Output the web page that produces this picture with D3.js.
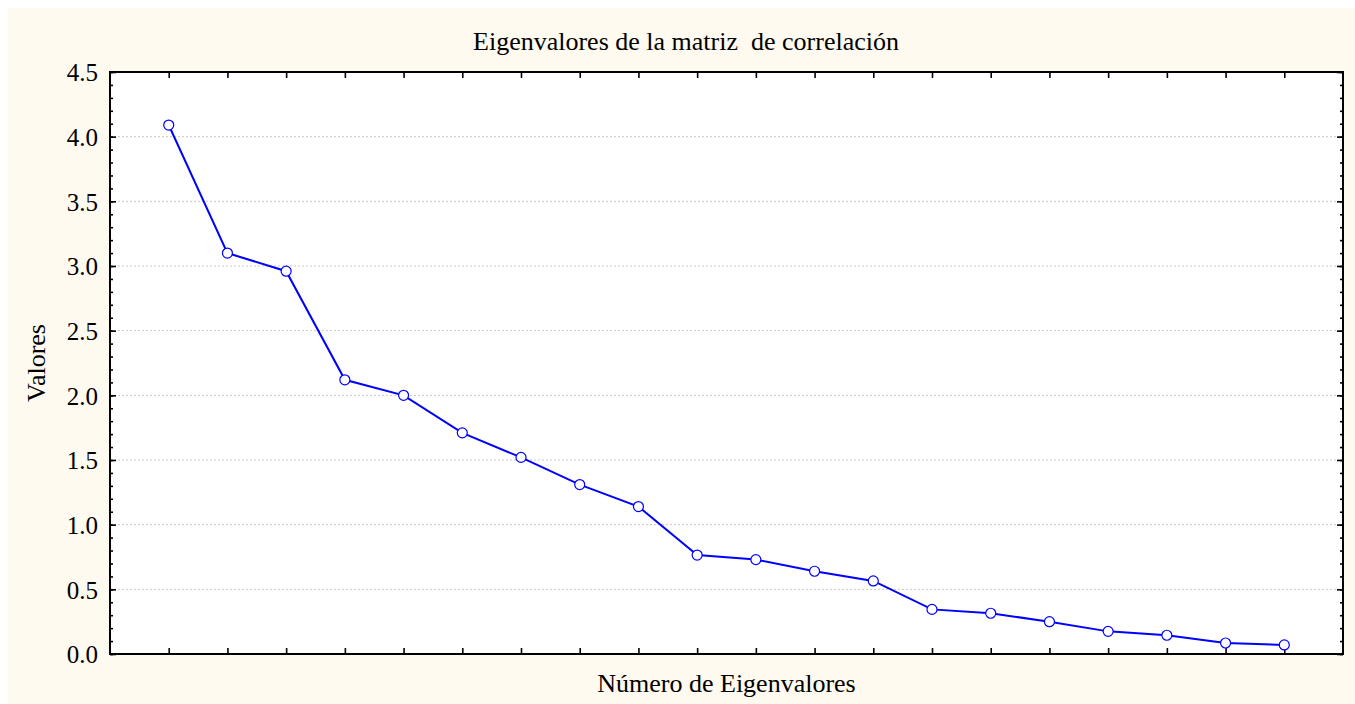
<!DOCTYPE html>
<html>
<head>
<meta charset="utf-8">
<script src="https://cdn.jsdelivr.net/npm/d3@7"></script>
<style>
  body { margin: 0; background: #ffffff; }
  svg { display: block; font-family: "Liberation Serif", "Times New Roman", serif; }
</style>
</head>
<body>
<svg id="chart" width="1355" height="704"></svg>
<script>
// eigenvalue number and value
var numbers = d3.range(1, 21);
var eigenvalues = [4.09, 3.10, 2.96, 2.12, 2.00, 1.71, 1.52, 1.31, 1.14, 0.765,
                   0.73, 0.64, 0.565, 0.345, 0.315, 0.25, 0.175, 0.145, 0.085, 0.07];
var yMajorTicks = [0, 0.5, 1.0, 1.5, 2.0, 2.5, 3.0, 3.5, 4.0, 4.5];

var titleText = "Eigenvalores de la matriz  de correlación";
var xLabel = "Número de Eigenvalores";
var yLabel = "Valores";

var serif = "Liberation Serif, Times New Roman, serif";
var svg = d3.select("#chart");
var margin = {left: 110, top: 72, right: 1343, bottom: 654};

svg.append("rect")
    .attr("x", 8).attr("y", 8)
    .attr("width", 1347).attr("height", 696)
    .attr("fill", "#fefaef");

var x = d3.scaleLinear().domain([0, 21]).range([margin.left, margin.right]);
var y = d3.scaleLinear().domain([0, 4.5]).range([margin.bottom, margin.top]);

svg.append("rect")
    .attr("x", margin.left).attr("y", margin.top)
    .attr("width", margin.right - margin.left)
    .attr("height", margin.bottom - margin.top)
    .attr("fill", "#ffffff");

// dotted grid
svg.append("g")
    .selectAll("line")
    .data(yMajorTicks.filter(function (d) { return d > 0 && d < 4.5; }))
    .enter().append("line")
    .attr("x1", margin.left).attr("x2", margin.right)
    .attr("y1", function (d) { return y(d); })
    .attr("y2", function (d) { return y(d); })
    .attr("stroke", "#c8c8c8")
    .attr("stroke-width", 1)
    .attr("stroke-dasharray", "2,2");

var minorTicks = d3.range(0, 46).map(function (d) { return d / 10; });

function styleAxis(g) {
    g.attr("font-family", serif).attr("font-size", 25);
    g.select(".domain").remove();
    g.selectAll(".tick line").attr("stroke", "#000").attr("stroke-width", 1.6);
    g.selectAll("text").attr("fill", "#000");
}

// inner ticks: bottom and top
svg.append("g")
    .attr("transform", "translate(0," + margin.bottom + ")")
    .call(d3.axisBottom(x).tickValues(numbers).tickSizeInner(-6).tickSizeOuter(0).tickFormat(""))
    .call(styleAxis);
svg.append("g")
    .attr("transform", "translate(0," + margin.top + ")")
    .call(d3.axisTop(x).tickValues(numbers).tickSizeInner(-6).tickSizeOuter(0).tickFormat(""))
    .call(styleAxis);

// minor y ticks, left and right
svg.append("g")
    .attr("transform", "translate(" + margin.left + ",0)")
    .call(d3.axisLeft(y).tickValues(minorTicks).tickSizeInner(-3).tickSizeOuter(0).tickFormat(""))
    .call(styleAxis);
svg.append("g")
    .attr("transform", "translate(" + margin.right + ",0)")
    .call(d3.axisRight(y).tickValues(minorTicks).tickSizeInner(-3).tickSizeOuter(0).tickFormat(""))
    .call(styleAxis);

// major y ticks with labels
svg.append("g")
    .attr("transform", "translate(" + margin.left + ",0)")
    .call(d3.axisLeft(y).tickValues(yMajorTicks).tickSizeInner(-6).tickSizeOuter(0)
        .tickPadding(12).tickFormat(d3.format(".1f")))
    .call(styleAxis)
    .selectAll("text")
    .attr("dy", "0.35em");
svg.append("g")
    .attr("transform", "translate(" + margin.right + ",0)")
    .call(d3.axisRight(y).tickValues(yMajorTicks).tickSizeInner(-6).tickSizeOuter(0).tickFormat(""))
    .call(styleAxis);

// frame
svg.append("rect")
    .attr("x", margin.left).attr("y", margin.top)
    .attr("width", margin.right - margin.left)
    .attr("height", margin.bottom - margin.top)
    .attr("fill", "none")
    .attr("stroke", "#000")
    .attr("stroke-width", 2);

// series
var line = d3.line()
    .x(function (d, i) { return x(numbers[i]); })
    .y(function (d) { return y(d); });

svg.append("path")
    .datum(eigenvalues)
    .attr("d", line)
    .attr("fill", "none")
    .attr("stroke", "#0000ff")
    .attr("stroke-width", 2);

svg.append("g")
    .selectAll("circle")
    .data(eigenvalues)
    .enter().append("circle")
    .attr("cx", function (d, i) { return x(numbers[i]); })
    .attr("cy", function (d) { return y(d); })
    .attr("r", 5)
    .attr("fill", "#ffffff")
    .attr("stroke", "#0000ff")
    .attr("stroke-width", 1.2);

// labels
svg.append("text")
    .attr("x", 686).attr("y", 50)
    .attr("text-anchor", "middle")
    .attr("font-size", "26px")
    .attr("fill", "#000")
    .style("white-space", "pre")
    .text(titleText);

svg.append("text")
    .attr("x", (margin.left + margin.right) / 2).attr("y", 692)
    .attr("text-anchor", "middle")
    .attr("font-size", "26px")
    .attr("fill", "#000")
    .text(xLabel);

svg.append("text")
    .attr("transform", "translate(45," + ((margin.top + margin.bottom) / 2) + ") rotate(-90)")
    .attr("text-anchor", "middle")
    .attr("font-size", "26px")
    .attr("fill", "#000")
    .text(yLabel);
</script>
</body>
</html>
